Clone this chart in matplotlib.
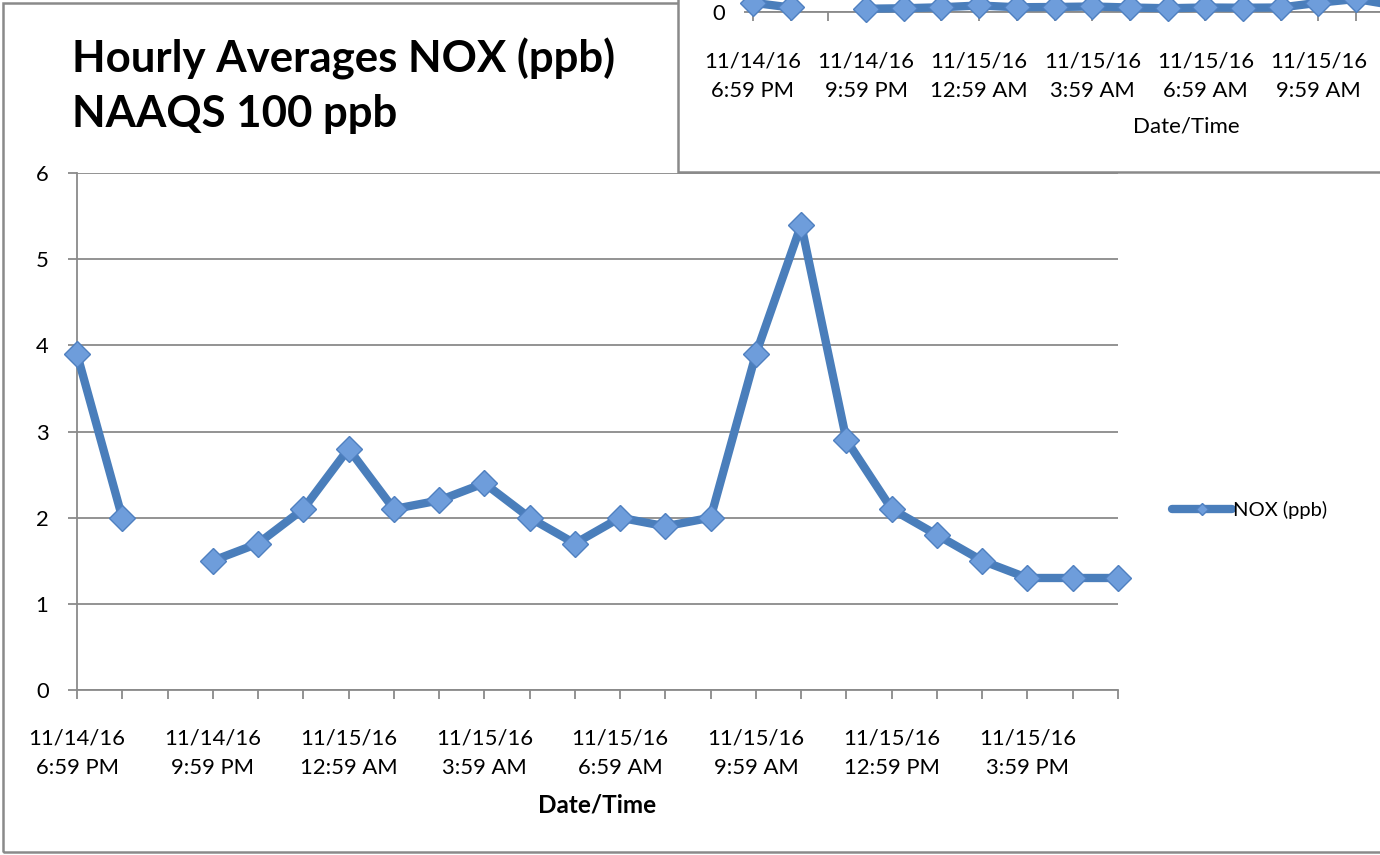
import numpy as np
import matplotlib
matplotlib.use('Agg')
import matplotlib.pyplot as plt
from matplotlib.patches import Rectangle
from matplotlib.lines import Line2D

plt.rcParams['font.family'] = ['Lato', 'DejaVu Sans']

# ---------------- data ----------------
time_labels = [
    "11/14/16\n6:59 PM", "11/14/16\n7:59 PM", "11/14/16\n8:59 PM",
    "11/14/16\n9:59 PM", "11/14/16\n10:59 PM", "11/14/16\n11:59 PM",
    "11/15/16\n12:59 AM", "11/15/16\n1:59 AM", "11/15/16\n2:59 AM",
    "11/15/16\n3:59 AM", "11/15/16\n4:59 AM", "11/15/16\n5:59 AM",
    "11/15/16\n6:59 AM", "11/15/16\n7:59 AM", "11/15/16\n8:59 AM",
    "11/15/16\n9:59 AM", "11/15/16\n10:59 AM", "11/15/16\n11:59 AM",
    "11/15/16\n12:59 PM", "11/15/16\n1:59 PM", "11/15/16\n2:59 PM",
    "11/15/16\n3:59 PM", "11/15/16\n4:59 PM", "11/15/16\n5:59 PM",
]
nox_ppb = [3.9, 2.0, np.nan, 1.5, 1.7, 2.1, 2.8, 2.1, 2.2, 2.4, 2.0, 1.7,
           2.0, 1.9, 2.0, 3.9, 5.4, 2.9, 2.1, 1.8, 1.5, 1.3, 1.3, 1.3]
main_yticks = [0, 1, 2, 3, 4, 5, 6]
inset_yticks = [0, 20, 40, 60, 80, 100, 120]
label_step = 3
series_name = "NOX (ppb)"
title_lines = ["Hourly Averages NOX (ppb)", "NAAQS 100 ppb"]

# ---------------- style ----------------
LINE = '#4A7EBB'
FACE = '#6E9DDB'
EDGE = '#4F80C0'
GRAY = '#8A8A8A'
W, H = 1380, 855
TICK_FS = 15.8

fig = plt.figure(figsize=(W / 100, H / 100), dpi=100)
fig.patch.set_facecolor('white')


def fx(px):
    return px / W


def fy(py):
    return 1 - py / H


# outer border of main chart
fig.patches.append(Rectangle((fx(3), fy(852)), 2.0, fy(3) - fy(852),
                             transform=fig.transFigure, fill=False,
                             ec=GRAY, lw=1.8, zorder=1))

x = np.arange(len(nox_ppb))
shown_labels = [lab if i % label_step == 0 else '' for i, lab in enumerate(time_labels)]


def style_axes(a, ymax, yticks):
    a.plot(x, nox_ppb, color=LINE, lw=6, marker='D', ms=13, mfc=FACE,
           mec=EDGE, mew=1.0, solid_joinstyle='round',
           solid_capstyle='round', clip_on=False, zorder=3)
    a.set_xlim(0, len(x) - 1)
    a.set_ylim(0, ymax)
    a.set_yticks(yticks)
    a.set_xticks(x)
    a.set_xticklabels(shown_labels)
    a.grid(axis='y', color=GRAY, lw=1.3)
    a.set_axisbelow(True)
    for s in ['top', 'right']:
        a.spines[s].set_visible(False)
    for s in ['left', 'bottom']:
        a.spines[s].set_color(GRAY)
        a.spines[s].set_linewidth(1.3)
    a.tick_params(axis='both', direction='out', length=6.5, width=1.3,
                  color=GRAY, labelsize=TICK_FS, labelcolor='black')
    a.tick_params(axis='x', pad=21.5)
    a.tick_params(axis='y', pad=14)
    for t in a.get_xticklabels():
        t.set_linespacing(1.6)


# ---------------- main axes ----------------
ax = fig.add_axes([fx(77), fy(690), fx(1118) - fx(77), fy(173) - fy(690)])
style_axes(ax, 6, main_yticks)
ax.set_xlabel('Date/Time', fontsize=17.5, fontweight='bold', labelpad=11)

# title
fig.text(fx(72), fy(72), title_lines[0], fontsize=31.5, fontweight='bold',
         va='baseline', ha='left')
fig.text(fx(72), fy(127), title_lines[1], fontsize=31.5, fontweight='bold',
         va='baseline', ha='left')

# legend
handle = Line2D([], [], color=LINE, lw=6, marker='D', ms=6, mfc=FACE,
                mec=EDGE, solid_capstyle='round')
fig.legend(handles=[handle], labels=[series_name], loc='center left',
           bbox_to_anchor=(fx(1172), fy(510)), frameon=False,
           handlelength=3.0, handletextpad=0.05, borderpad=0,
           borderaxespad=0, fontsize=14.5)

# ---------------- overlapping second chart (top right) ----------------
fig.patches.append(Rectangle((fx(678), fy(172)), 2.0, 2.0,
                             transform=fig.transFigure, fc='white',
                             ec=GRAY, lw=1.8, zorder=2))

iax = fig.add_axes([fx(753), fy(12.5), 867 / W, 300 / H])
iax.set_zorder(3)
iax.patch.set_alpha(0)
style_axes(iax, 120, inset_yticks)
iax.set_xlabel('Date/Time', fontsize=16, labelpad=11)

fig.savefig('out.png', dpi=100)
